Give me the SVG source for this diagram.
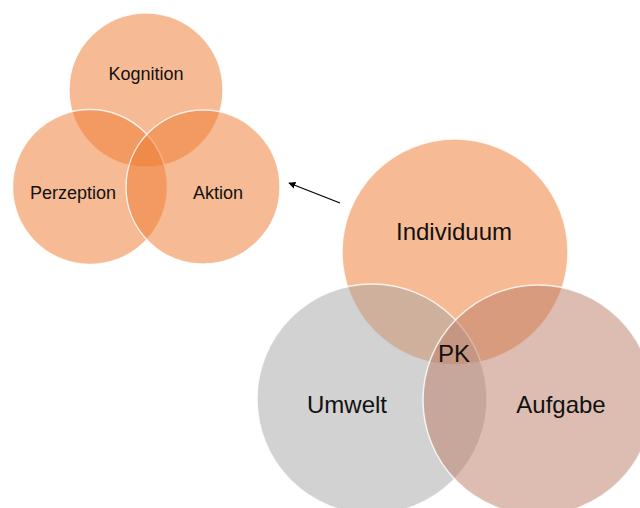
<svg xmlns="http://www.w3.org/2000/svg" width="640" height="508" viewBox="0 0 640 508">
<style>
.c{stroke:#ffffff;stroke-width:1.5;stroke-opacity:0.8}
.o{fill:#ED7D31;fill-opacity:0.52}
.g{fill:#A5A5A5;fill-opacity:0.5}
.p{fill:#BC7B65;fill-opacity:0.5}
.t{font-family:"Liberation Sans",Arial,sans-serif;fill:#111111;text-anchor:middle}
.s{font-size:18px}
.b{font-size:24px}
</style>
<defs>
<marker id="ah" viewBox="0 0 10 10" refX="9" refY="5" markerWidth="7" markerHeight="7" orient="auto" markerUnits="userSpaceOnUse">
<path d="M0,0 L10,5 L0,10 z" fill="#000"/>
</marker>
</defs>
<rect width="640" height="508" fill="#ffffff"/>
<g id="kognition"><circle class="c o" cx="146" cy="90" r="77"/></g>
<g id="perzeption"><circle class="c o" cx="90" cy="187" r="77.5"/></g>
<g id="aktion"><circle class="c o" cx="203" cy="187" r="77"/></g>
<g id="individuum"><circle class="c o" cx="455" cy="252" r="113"/></g>
<g id="umwelt"><circle class="c g" cx="372" cy="399" r="115"/></g>
<g id="aufgabe"><circle class="c p" cx="538" cy="400" r="115"/></g>
<g id="labels">
<text class="t s" x="146" y="80">Kognition</text>
<text class="t s" x="73" y="199">Perzeption</text>
<text class="t s" x="218" y="199">Aktion</text>
<text class="t b" x="454" y="240">Individuum</text>
<text class="t b" x="454" y="362">PK</text>
<text class="t b" x="347" y="413">Umwelt</text>
<text class="t b" x="561" y="413">Aufgabe</text>
</g>
<g id="connectors">
<line x1="340" y1="203" x2="289" y2="183" stroke="#000" stroke-width="1.3" marker-end="url(#ah)"/>
</g>
</svg>
